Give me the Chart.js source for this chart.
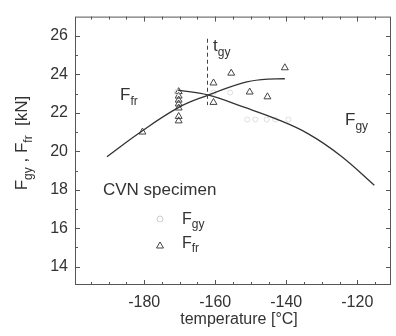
<!DOCTYPE html>
<html>
<head>
<meta charset="utf-8">
<script src="https://cdn.jsdelivr.net/npm/chart.js@4"></script>
<style>
  body { margin: 0; background: #fff; }
  #wrap { width: 396px; height: 336px; }
</style>
</head>
<body>
<div id="wrap"><canvas id="myChart"></canvas></div>
<script>
// data
const ffrTemp = [-180.5, -170.3, -170.3, -170.3, -170.3, -170.3, -170.3, -170.3, -160.5, -160.5, -155.5, -150.3, -145.3, -140.4];
const ffrForce = [21.0, 23.1, 22.87, 22.66, 22.46, 22.25, 21.81, 21.58, 23.55, 22.54, 24.06, 23.08, 22.83, 24.34];

const fgyTemp = [-170.8, -160.5, -155.8, -151, -148.7, -145.5, -143.1, -139.4];
const fgyForce = [23.08, 23.05, 23.05, 21.65, 21.65, 21.65, 21.65, 21.65];

const fitFrTemp = [-190.5, -181.5, -170.4, -162.1, -152.2, -147, -140.4];
const fitFrForce = [19.72, 20.94, 22.27, 22.91, 23.55, 23.72, 23.77];

const fitGyTemp = [-170.5, -162.1, -151.9, -143.1, -133.9, -124.6, -115.2];
const fitGyForce = [23.18, 22.93, 22.29, 21.70, 20.92, 19.76, 18.24];

const xTicks = [-180, -160, -140, -120];
const yTicks = [14, 16, 18, 20, 22, 24, 26];
const tgyTemp = -162.3;

const ink = "#333";
const font = "Liberation Sans, Arial, sans-serif";

function pts(xs, ys) {
  return xs.map((x, i) => ({ x: x, y: ys[i] }));
}

// text with a subscript
function subText(c, main, sub, x, y, size) {
  c.font = size + "px " + font;
  c.fillText(main, x, y);
  const w = c.measureText(main).width;
  c.font = Math.round(size * 0.72) + "px " + font;
  c.fillText(sub, x + w, y + size * 0.28);
  return w + c.measureText(sub).width;
}

const extras = {
  id: "extras",
  afterDraw(chart) {
    const c = chart.ctx;
    const a = chart.chartArea;
    const xs = chart.scales.x;
    const ys = chart.scales.y;
    c.save();

    // frame
    c.strokeStyle = "#555";
    c.lineWidth = 1;
    c.strokeRect(a.left + 0.5, a.top + 0.5, a.right - a.left - 1, a.bottom - a.top - 1);

    // inward ticks on all four sides
    c.beginPath();
    for (let t = -195; t <= -115; t += 5) {
      const px = Math.round(xs.getPixelForValue(t)) + 0.5;
      const len = t % 20 === 0 ? 5 : 3;
      c.moveTo(px, a.bottom); c.lineTo(px, a.bottom - len);
      c.moveTo(px, a.top); c.lineTo(px, a.top + len);
    }
    for (let v = 14; v <= 26; v += 1) {
      const py = Math.round(ys.getPixelForValue(v)) + 0.5;
      const len = v % 2 === 0 ? 5 : 3;
      c.moveTo(a.left, py); c.lineTo(a.left + len, py);
      c.moveTo(a.right, py); c.lineTo(a.right - len, py);
    }
    c.stroke();

    // dashed t_gy line
    c.setLineDash([4, 3]);
    c.strokeStyle = "#444";
    c.beginPath();
    const dx = Math.round(xs.getPixelForValue(tgyTemp)) + 0.5;
    c.moveTo(dx, ys.getPixelForValue(25.85));
    c.lineTo(dx, ys.getPixelForValue(22.4));
    c.stroke();
    c.setLineDash([]);

    c.fillStyle = ink;
    c.textBaseline = "alphabetic";
    c.textAlign = "left";
    subText(c, "t", "gy", 213, 51, 17);
    subText(c, "F", "fr", 120, 100, 17);
    subText(c, "F", "gy", 345, 125, 17);

    c.font = "17px " + font;
    c.fillText("CVN specimen", 103, 195);
    subText(c, "F", "gy", 182, 224, 16);
    subText(c, "F", "fr", 182, 248, 16);

    // legend symbols
    c.strokeStyle = "#ccc";
    c.beginPath();
    c.arc(160, 219, 3, 0, Math.PI * 2);
    c.stroke();
    c.strokeStyle = "#444";
    c.beginPath();
    c.moveTo(160, 242); c.lineTo(163.5, 248); c.lineTo(156.5, 248); c.closePath();
    c.stroke();

    // axis titles
    c.textAlign = "center";
    c.font = "16px " + font;
    c.fillText("temperature [°C]", 239, 324);

    c.translate(27, 143);
    c.rotate(-Math.PI / 2);
    c.textAlign = "left";
    let w = 0;
    c.font = "17px " + font;
    w += c.measureText("F").width;
    c.font = "12px " + font;
    w += c.measureText("gy").width;
    c.font = "17px " + font;
    w += c.measureText(" , F").width;
    c.font = "12px " + font;
    w += c.measureText("fr").width;
    c.font = "17px " + font;
    w += c.measureText("  [kN]").width;
    let x0 = -w / 2;
    x0 += subText(c, "F", "gy", x0, 0, 17);
    x0 += subText(c, " , F", "fr", x0, 0, 17);
    c.font = "17px " + font;
    c.fillText("  [kN]", x0, 0);
    c.restore();
  }
};

new Chart(document.getElementById("myChart"), {
  type: "scatter",
  data: {
    datasets: [
      {
        label: "Ffr fit",
        data: pts(fitFrTemp, fitFrForce),
        showLine: true,
        borderColor: ink,
        borderWidth: 1.3,
        pointRadius: 0,
        tension: 0.4,
      },
      {
        label: "Fgy fit",
        data: pts(fitGyTemp, fitGyForce),
        showLine: true,
        borderColor: ink,
        borderWidth: 1.3,
        pointRadius: 0,
        tension: 0.4,
      },
      {
        label: "Fgy",
        data: pts(fgyTemp, fgyForce),
        pointStyle: "circle",
        pointRadius: 2.5,
        borderWidth: 1,
        borderColor: "#ddd",
        backgroundColor: "rgba(0,0,0,0)",
      },
      {
        label: "Ffr",
        data: pts(ffrTemp, ffrForce),
        pointStyle: "triangle",
        pointRadius: 4,
        borderWidth: 1,
        borderColor: "#444",
        backgroundColor: "rgba(255,255,255,0)",
      },
    ],
  },
  options: {
    responsive: true,
    maintainAspectRatio: false,
    animation: false,
    layout: { padding: { top: 9, right: 1, left: 0, bottom: 0 } },
    plugins: { legend: { display: false }, tooltip: { enabled: false } },
    scales: {
      x: {
        type: "linear",
        min: -199.5,
        max: -110.5,
        afterFit: (s) => { s.height = 51; },
        afterBuildTicks: (s) => { s.ticks = xTicks.map((v) => ({ value: v })); },
        grid: { display: false, drawTicks: false },
        border: { display: false },
        ticks: { padding: 8, color: ink, font: { family: font, size: 16 } },
      },
      y: {
        type: "linear",
        min: 13.05,
        max: 27,
        afterFit: (s) => { s.width = 75; },
        afterBuildTicks: (s) => { s.ticks = yTicks.map((v) => ({ value: v })); },
        grid: { display: false, drawTicks: false },
        border: { display: false },
        ticks: { padding: 7, color: ink, font: { family: font, size: 16 } },
      },
    },
  },
  plugins: [extras],
});
</script>
</body>
</html>
